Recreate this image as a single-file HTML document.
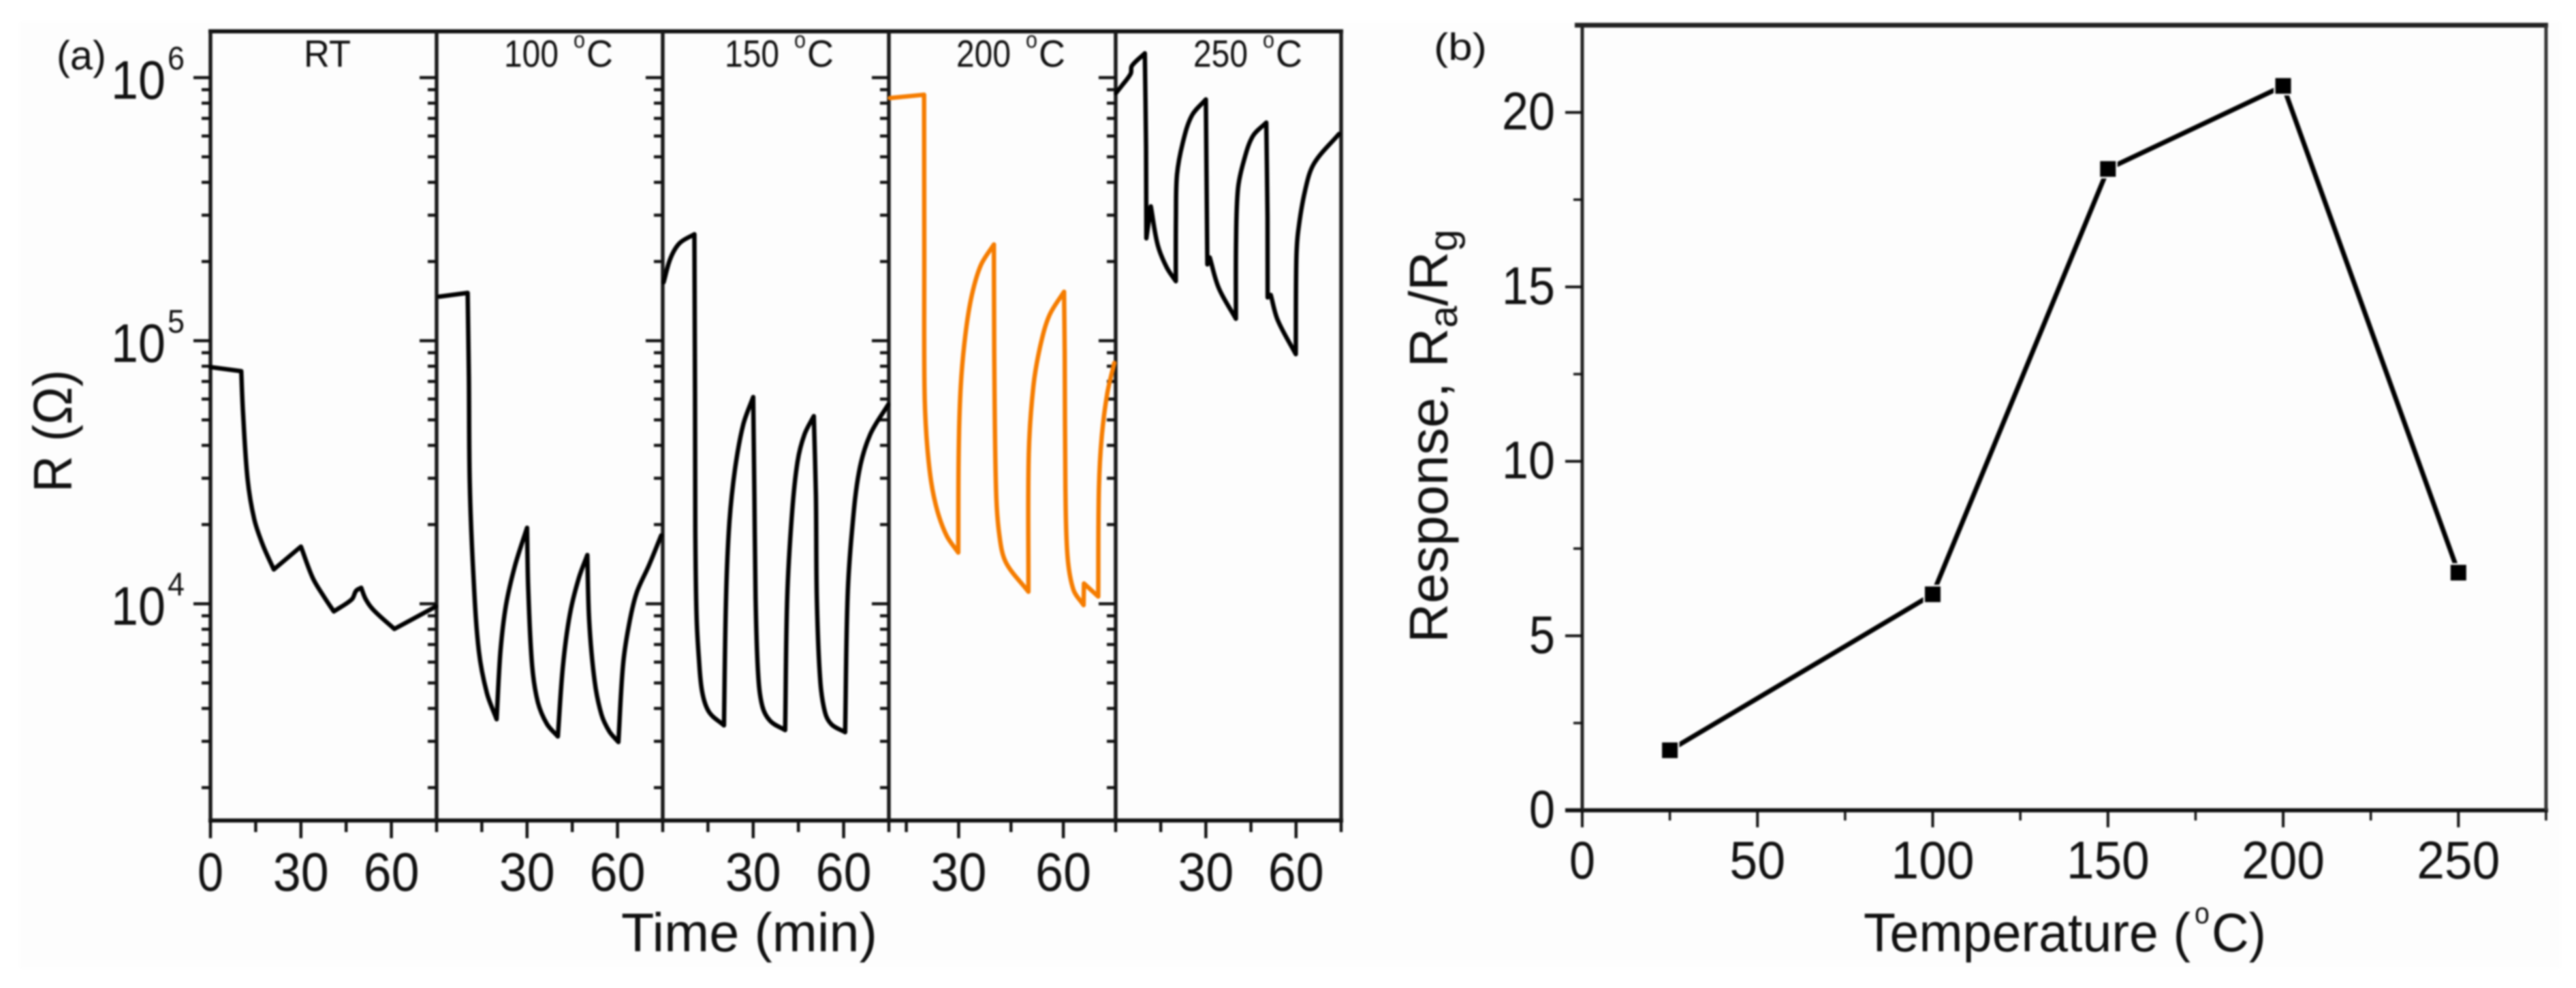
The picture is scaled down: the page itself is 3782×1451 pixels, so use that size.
<!DOCTYPE html>
<html lang="en">
<head>
<meta charset="utf-8">
<title>Resistance and response versus temperature</title>
<style>
html,body{margin:0;padding:0;background:#fff;width:3782px;height:1451px;overflow:hidden}
svg{display:block;filter:blur(1.3px)}
text{font-family:"Liberation Sans",sans-serif;fill:#111}
</style>
</head>
<body>
<svg id="figure" xmlns="http://www.w3.org/2000/svg" width="3782" height="1451" viewBox="0 0 3782 1451">
<rect x="29" y="32" width="3730" height="1390" fill="#fdfdfd"/>
<text x="83" y="102" font-size="60" textLength="73" lengthAdjust="spacingAndGlyphs">(a)</text>
<text x="2105" y="88" font-size="56" textLength="78" lengthAdjust="spacingAndGlyphs">(b)</text>
<text transform="translate(105,723) rotate(-90)" font-size="80" textLength="180" lengthAdjust="spacingAndGlyphs">R (Ω)</text>
<text x="912" y="1397" font-size="80" textLength="376" lengthAdjust="spacingAndGlyphs">Time (min)</text>
<text x="2736" y="1397" font-size="80" textLength="480" lengthAdjust="spacingAndGlyphs">Temperature (</text>
<text x="3222" y="1356" font-size="44" textLength="22" lengthAdjust="spacingAndGlyphs">o</text>
<text x="3247" y="1397" font-size="80" textLength="80" lengthAdjust="spacingAndGlyphs">C)</text>
<text transform="translate(2125,944) rotate(-90) scale(1.0,1)" font-size="80">Response, R<tspan dy="14" font-size="58">a</tspan><tspan dy="-14">/R</tspan><tspan dy="14" font-size="58">g</tspan></text>
</svg>
<script>
// Panel (a): time in minutes and resistance in ohms
const panelSeriesNames = ['rt', '100c', '150c', '200c', '250c'];
const panelTitleValues = ['100', '150', '200', '250'];
const rtTime = [0, 10.2, 10.8, 12.3, 14.5, 17.4, 21, 30, 33.9, 37.5, 40.9, 46.9, 48.3, 50, 51.5, 54.1, 61, 74.8];
const rtResistance = [79400, 76600, 53300, 29900, 21000, 16700, 13500, 16500, 12550, 10700, 9350, 10400, 11200, 11500, 10400, 9460, 8020, 9770];
const t100Time = [0.9, 10.3, 10.7, 11, 12.2, 14, 16.7, 19.9, 21.2, 23, 26, 30, 30.4, 31.7, 33.6, 36.6, 40.2, 41.9, 44.2, 47.2, 50, 50.6, 52.4, 54.7, 57.3, 60.3, 61.8, 63.7, 66.3, 70.4, 74.5];
const t100Resistance = [147100, 152000, 72600, 28650, 12890, 6620, 4570, 3640, 6620, 9860, 13960, 19450, 11300, 5800, 4220, 3490, 3130, 5800, 9120, 12540, 15320, 8650, 5090, 3790, 3270, 2980, 5800, 8200, 10970, 13960, 18200];
const t150Time = [0.3, 2.5, 5.6, 10.5, 10.7, 10.8, 11.2, 12, 13.1, 15.4, 20.3, 21, 22.1, 24, 26.7, 30, 30.4, 30.8, 31.6, 33, 35.7, 40.6, 41.3, 42.9, 44.7, 47, 50.1, 50.8, 51.1, 52.2, 53.8, 56, 60.5, 61.3, 62.8, 65.1, 68.8, 74.8];
const t150Resistance = [166700, 204800, 234900, 253900, 62600, 19100, 9120, 6190, 4610, 3870, 3450, 10590, 20280, 32650, 47970, 61070, 25750, 10590, 5500, 4090, 3580, 3310, 10590, 22180, 34670, 44000, 51670, 25750, 10590, 5180, 3870, 3475, 3250, 10590, 19100, 31700, 44000, 57200];
const t200Time = [10.3, 20.1, 20.15, 20.2, 20.8, 22.1, 24, 26.6, 29.9, 30, 30.6, 31.9, 33.8, 36.4, 40.1, 40.2, 40.7, 41.7, 43.6, 50, 50.1, 51.4, 53.4, 56, 60.2, 60.4, 60.6, 61.2, 62.9, 65.8, 65.9, 70, 70.2, 71, 72.6, 74.6];
const t200Resistance = [836400, 861000, 218800, 66800, 43000, 29200, 22300, 18100, 15650, 37000, 66800, 104500, 149300, 194100, 232200, 90000, 27480, 18100, 14320, 11110, 37000, 66800, 95500, 124900, 153500, 90000, 27480, 15190, 11300, 9880, 11940, 10650, 27480, 43000, 63100, 82300];
const t250Time = [0.1, 1.9, 5, 5.4, 9.7, 10.1, 10.2, 11.7, 14, 17, 20, 20.05, 20.4, 22.3, 25.3, 30, 30.2, 30.5, 31.3, 34.3, 40, 40.05, 40.7, 42.6, 45.6, 50.1, 50.5, 50.55, 51.6, 53.9, 59.9, 60.1, 60.7, 63, 66, 74.3];
const t250Resistance = [873400, 927000, 1036000, 1109000, 1237000, 542000, 245000, 324000, 230800, 189700, 168300, 298800, 427200, 564200, 716200, 826400, 444600, 195000, 207300, 158500, 121200, 245000, 379300, 481000, 598800, 675000, 298800, 146100, 149300, 119800, 88900, 201200, 260000, 371500, 472000, 611000];
const panelSeries = [[rtTime, rtResistance], [t100Time, t100Resistance], [t150Time, t150Resistance], [t200Time, t200Resistance], [t250Time, t250Resistance]];
const panelColors = ['#000', '#000', '#000', '#f57c00', '#000'];
const panelStartMinutes = [0, 0, 0, 10, 0];
const timeMajorTicks = [30, 60];
const timeMinorTicks = [15, 45, 75];
const resistanceMajorExponents = [6, 5, 4];
const resistanceMinorValues = [2e3, 3e3, 4e3, 5e3, 6e3, 7e3, 8e3, 9e3, 2e4, 3e4, 4e4, 5e4, 6e4, 7e4, 8e4, 9e4, 2e5, 3e5, 4e5, 5e5, 6e5, 7e5, 8e5, 9e5];

// Panel (b): response versus temperature
const temperatures = [25, 100, 150, 200, 250];
const responses = [1.72, 6.19, 18.38, 20.76, 6.81];
const tempMajorTicks = [0, 50, 100, 150, 200, 250];
const tempMinorTicks = [25, 75, 125, 175, 225, 275];
const responseMajorTicks = [0, 5, 10, 15, 20];
const responseMinorTicks = [2.5, 7.5, 12.5, 17.5];

const svg = document.getElementById('figure');
const NS = 'http://www.w3.org/2000/svg';
function make(tag, props, text) {
  const el = document.createElementNS(NS, tag);
  for (const k in props) el.setAttribute(k, props[k]);
  if (text !== undefined) el.textContent = text;
  svg.appendChild(el);
  return el;
}

// Axis functions
const panelEdges = [309, 641, 973, 1305, 1638, 1969];
const aTop = 46, aBottom = 1205;
const rMax = 1.5e6, rMin = 1.5e3;
function yR(r) {
  return aTop + (Math.log10(rMax) - Math.log10(r)) / (Math.log10(rMax) - Math.log10(rMin)) * (aBottom - aTop);
}
function xT(panel, t) {
  const a = panelEdges[panel], b = panelEdges[panel + 1], s = panelStartMinutes[panel];
  return a + (t - s) / (75 - s) * (b - a);
}
const bLeft = 2323, bRight = 3738, bTop = 37, bBottom = 1190;
function xB(v) { return bLeft + v / 275 * (bRight - bLeft); }
function yB(v) { return bBottom - v / 22.5 * (bBottom - bTop); }

// Builds a smooth path through the points, keeping sharp cusps at peaks, troughs and hard corners
function smoothPath(pts) {
  let d = 'M' + pts[0][0].toFixed(1) + ' ' + pts[0][1].toFixed(1);
  const isCusp = function (i) {
    if (i === 0 || i === pts.length - 1) return true;
    const ax = pts[i][0] - pts[i - 1][0], ay = pts[i][1] - pts[i - 1][1];
    const bx = pts[i + 1][0] - pts[i][0], by = pts[i + 1][1] - pts[i][1];
    if (ay * by <= 0) return true;
    const cos = (ax * bx + ay * by) / ((Math.hypot(ax, ay) || 1) * (Math.hypot(bx, by) || 1));
    return cos < 0.5;
  };
  const tangent = function (i, side) {
    let a, b;
    if (isCusp(i)) {
      a = side > 0 ? pts[i] : pts[i - 1];
      b = side > 0 ? pts[i + 1] : pts[i];
    } else {
      a = pts[i - 1];
      b = pts[i + 1];
    }
    const dx = b[0] - a[0], dy = b[1] - a[1], len = Math.hypot(dx, dy) || 1;
    return [dx / len, dy / len];
  };
  for (let i = 0; i < pts.length - 1; i++) {
    const p = pts[i], q = pts[i + 1];
    const h = Math.hypot(q[0] - p[0], q[1] - p[1]) / 3;
    const t0 = tangent(i, 1), t1 = tangent(i + 1, -1);
    d += 'C' + (p[0] + t0[0] * h).toFixed(1) + ' ' + (p[1] + t0[1] * h).toFixed(1) + ' ' +
      (q[0] - t1[0] * h).toFixed(1) + ' ' + (q[1] - t1[1] * h).toFixed(1) + ' ' +
      q[0].toFixed(1) + ' ' + q[1].toFixed(1);
  }
  return d;
}

let el;

// Panel (a) frame
el = make('line', {x1: 306, x2: 1972, y1: aTop, y2: aTop, stroke: '#111', 'stroke-width': 6});


el = make('line', {x1: 306, x2: 1972, y1: aBottom, y2: aBottom, stroke: '#111', 'stroke-width': 6});



panelEdges.forEach(function (x, i) {
  const line = make('line', {x1: x, x2: x, y1: aTop, y2: aBottom, stroke: '#1a1a1a', 'stroke-width': 5.5});
  
  
  if (i === 5) return;
  resistanceMajorExponents.forEach(function (exp) {
    const y = yR(Math.pow(10, exp));
    const tick = make('line', {x1: x - 25, x2: x, y1: y, y2: y, stroke: '#111', 'stroke-width': 4.5});
    
    
  });
  resistanceMinorValues.forEach(function (r) {
    const y = yR(r);
    const tick = make('line', {x1: x - 13, x2: x, y1: y, y2: y, stroke: '#111', 'stroke-width': 4.5});
    
    
  });
});

resistanceMajorExponents.forEach(function (exp) {
  const y = yR(Math.pow(10, exp));
  const base = make('text', {x: 163, y: y + 31, 'font-size': 80, textLength: 80, lengthAdjust: 'spacingAndGlyphs'}, '10');
  
  
  const sup = make('text', {x: 246, y: y - 12, 'font-size': 48, textLength: 25, lengthAdjust: 'spacingAndGlyphs'}, String(exp));
  
  
});

// Panel titles
el = make('text', {x: 446, y: 98, 'font-size': 56, textLength: 69, lengthAdjust: 'spacingAndGlyphs'}, 'RT');


const titleStarts = [740, 1064, 1404, 1752];
panelTitleValues.forEach(function (value, i) {
  const a = titleStarts[i];
  const num = make('text', {x: a, y: 98, 'font-size': 56, textLength: 80, lengthAdjust: 'spacingAndGlyphs'}, value);
  
  
  const deg = make('text', {x: a + 102, y: 70, 'font-size': 34, textLength: 17, lengthAdjust: 'spacingAndGlyphs'}, 'o');
  
  
  const unit = make('text', {x: a + 121, y: 98, 'font-size': 56, textLength: 39, lengthAdjust: 'spacingAndGlyphs'}, 'C');
  
  
});

// Panel (a) ticks and curves
panelSeriesNames.forEach(function (name, p) {
  timeMajorTicks.forEach(function (t) {
    const x = xT(p, t);
    const tick = make('line', {x1: x, x2: x, y1: aBottom, y2: aBottom + 26, stroke: '#111', 'stroke-width': 4.5});
    
    
    const txt = make('text', {x: x - 41, y: 1308, 'font-size': 80, textLength: 82, lengthAdjust: 'spacingAndGlyphs'}, String(t));
    
    
  });
  timeMinorTicks.forEach(function (t) {
    const x = xT(p, t);
    const tick = make('line', {x1: x, x2: x, y1: aBottom, y2: aBottom + 17, stroke: '#111', 'stroke-width': 4.5});
    
    
  });

  const times = panelSeries[p][0], values = panelSeries[p][1];
  const pts = times.map(function (t, i) { return [xT(p, t), yR(values[i])]; });
  const curve = make('path', {d: smoothPath(pts), fill: 'none', stroke: panelColors[p], 'stroke-width': 6.5, 'stroke-linejoin': 'round', 'stroke-linecap': 'round'});
  
  
});

// Zero tick on the first panel
el = make('line', {x1: xT(0, 0), x2: xT(0, 0), y1: aBottom, y2: aBottom + 26, stroke: '#111', 'stroke-width': 4.5});


el = make('text', {x: xT(0, 0) - 19, y: 1308, 'font-size': 80, textLength: 38, lengthAdjust: 'spacingAndGlyphs'}, '0');



// Panel (b) frame
el = make('line', {x1: 2312, x2: 3741, y1: bTop, y2: bTop, stroke: '#222', 'stroke-width': 7});


el = make('line', {x1: 2298, x2: 3741, y1: bBottom, y2: bBottom, stroke: '#111', 'stroke-width': 6});


el = make('line', {x1: bLeft, x2: bLeft, y1: bTop, y2: bBottom, stroke: '#222', 'stroke-width': 5});


el = make('line', {x1: bRight, x2: bRight, y1: bTop, y2: bBottom, stroke: '#333', 'stroke-width': 5});



responseMajorTicks.forEach(function (v) {
  const y = yB(v);
  const tick = make('line', {x1: bLeft - 25, x2: bLeft, y1: y, y2: y, stroke: '#111', 'stroke-width': 4});
  
  
  const s = String(v);
  const w = s.length === 1 ? 38 : 78;
  const txt = make('text', {x: 2283 - w, y: y + 25, 'font-size': 78, textLength: w, lengthAdjust: 'spacingAndGlyphs'}, s);
  
  
});
responseMinorTicks.forEach(function (v) {
  const y = yB(v);
  const tick = make('line', {x1: bLeft - 13, x2: bLeft, y1: y, y2: y, stroke: '#111', 'stroke-width': 3.5});
  
  
});
tempMajorTicks.forEach(function (v) {
  const x = xB(v);
  const tick = make('line', {x1: x, x2: x, y1: bBottom, y2: bBottom + 25, stroke: '#111', 'stroke-width': 4});
  
  
  const s = String(v);
  const w = s.length === 1 ? 38 : s.length === 2 ? 82 : 122;
  const txt = make('text', {x: x - w / 2, y: 1290, 'font-size': 78, textLength: w, lengthAdjust: 'spacingAndGlyphs'}, s);
  
  
});
tempMinorTicks.forEach(function (v) {
  const x = xB(v);
  const tick = make('line', {x1: x, x2: x, y1: bBottom, y2: bBottom + 15, stroke: '#111', 'stroke-width': 3.5});
  
  
});

// Panel (b) series
el = make('polyline', {points: temperatures.map(function (t, i) { return xB(t).toFixed(1) + ',' + yB(responses[i]).toFixed(1); }).join(' '), fill: 'none', stroke: '#000', 'stroke-width': 7, 'stroke-linejoin': 'round'});


temperatures.forEach(function (t, i) {
  const m = make('rect', {x: xB(t) - 11.5, y: yB(responses[i]) - 11.5, width: 23, height: 23, fill: '#000', stroke: '#fdfdfd', 'stroke-width': 5, 'paint-order': 'stroke'});
  
  
});
</script>
</body>
</html>
